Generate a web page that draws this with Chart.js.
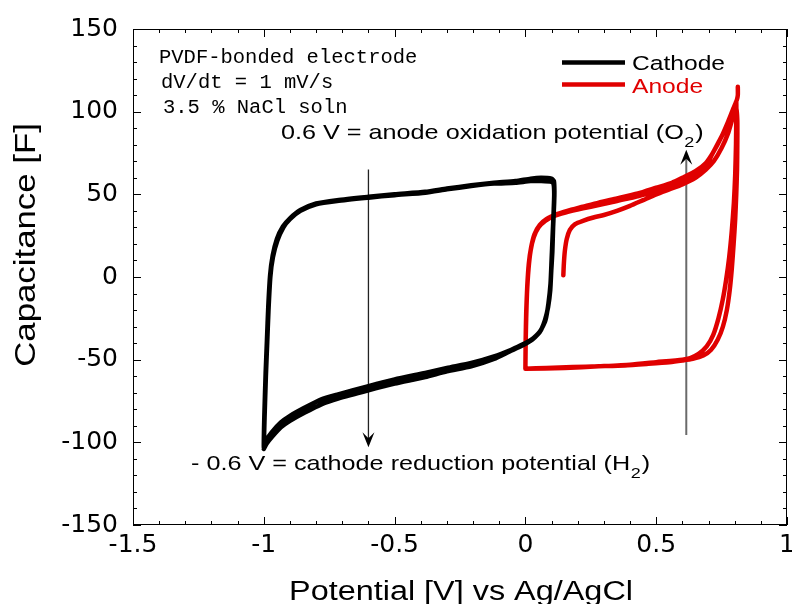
<!DOCTYPE html>
<html>
<head>
<meta charset="utf-8">
<script src="https://cdn.jsdelivr.net/npm/chart.js@4.4.1/dist/chart.umd.min.js"></script>
<style>
html,body{margin:0;padding:0;background:#fff;}
#c{display:block;}
</style>
</head>
<body>
<canvas id="c" width="792" height="604"></canvas>
<script>
// ---------------- DATA ----------------
const xTickValues = [-1.5, -1, -0.5, 0, 0.5, 1];
const xTickLabels = ['-1.5', '-1', '-0.5', '0', '0.5', '1'];
const yTickValues = [-150, -100, -50, 0, 50, 100, 150];
const yTickLabels = ['-150', '-100', '-50', '0', '50', '100', '150'];

const seriesNames = ['Cathode', 'Anode'];

// Cathode CV loop (two cycles) : potential [V]
const cathodeV = [
  -1.0, -0.997, -0.992, -0.987, -0.982, -0.975, -0.965, -0.948, -0.925, -0.9, -0.86, -0.8, -0.72, -0.6, -0.5, -0.383, -0.3, -0.207, -0.12, -0.038, 0.02, 0.06, 0.1, 0.108,
  0.11, 0.108, 0.104, 0.1, 0.096, 0.088, 0.077, 0.063, 0.05, 0.03, 0.011, -0.02, -0.054, -0.12, -0.207, -0.3, -0.383, -0.5, -0.6, -0.716, -0.78, -0.843, -0.9, -0.935, -0.97, -0.996, -1.0,
  -0.998, -0.993, -0.988, -0.983, -0.976, -0.966, -0.95, -0.927, -0.9, -0.86, -0.8, -0.72, -0.6, -0.5, -0.383, -0.3, -0.207, -0.12, -0.038, 0.02, 0.06, 0.1, 0.109,
  0.111, 0.11, 0.106, 0.103, 0.099, 0.095, 0.087, 0.075, 0.06, 0.046, 0.026, 0.006, -0.025, -0.06, -0.12, -0.207, -0.3, -0.383, -0.5, -0.6, -0.716, -0.78, -0.843, -0.9, -0.935, -0.97, -0.99, -1.0
];
// Cathode capacitance [F]
const cathodeC = [
  -103, -85, -60, -40, -20, 0, 12, 22, 30, 35, 40, 44, 46, 48, 49.5, 51, 53, 55, 56.5, 57, 58, 58, 57.5, 56,
  50, 40, 25, 10, -4, -16, -26, -31, -34, -37, -39, -41.5, -44, -48, -52, -55, -58, -62, -66, -71, -74, -79, -84, -88, -94, -100, -103,
  -84, -58, -38, -18, 1, 13, 23, 30.5, 35.5, 40.5, 44.5, 46.5, 48.5, 50, 51.5, 53.5, 55.5, 57, 58, 59.5, 60, 59.5, 58,
  52, 45, 30, 15, 4, -8, -18, -26, -32, -35, -38, -40, -42.5, -45, -49.5, -54, -57, -60.5, -64.5, -68.5, -73.5, -77, -82, -87, -91, -97, -101, -104
];

// Anode CV (starts at open circuit, then cycles) : potential [V]
const anodeV = [
  0.145, 0.147, 0.151, 0.158, 0.17, 0.19, 0.22, 0.26, 0.3, 0.35, 0.4, 0.45, 0.5, 0.55, 0.6, 0.65, 0.69, 0.72, 0.75, 0.775, 0.79, 0.8, 0.805,
  0.81, 0.81, 0.809, 0.806, 0.802, 0.796, 0.789, 0.781, 0.77, 0.755, 0.735, 0.71, 0.68, 0.64, 0.6, 0.55, 0.47, 0.38, 0.28, 0.18, 0.08, 0.0,
  0.0, 0.001, 0.003, 0.006, 0.012, 0.02, 0.032, 0.05, 0.077, 0.11, 0.153, 0.22, 0.28, 0.35, 0.433, 0.5, 0.56, 0.6, 0.65, 0.69, 0.713, 0.74, 0.766, 0.785, 0.797, 0.806,
  0.806, 0.805, 0.802, 0.797, 0.789, 0.779, 0.767, 0.754, 0.738, 0.718, 0.693, 0.662, 0.63, 0.6, 0.5, 0.4, 0.28, 0.15, 0.0,
  0.0, 0.001, 0.003, 0.007, 0.013, 0.022, 0.035, 0.055, 0.08, 0.12, 0.16, 0.22, 0.28, 0.35, 0.43, 0.5, 0.56, 0.6, 0.65, 0.69, 0.72, 0.75, 0.775, 0.795, 0.808, 0.812, 0.812
];
// Anode capacitance [F]
const anodeC = [
  1, 8, 16, 23, 28.5, 32, 34, 36, 37.5, 40, 43, 46.5, 50, 53, 56, 60, 65, 70, 78, 87, 95, 100, 103,
  95, 80, 65, 50, 35, 20, 5, -8, -20, -30, -38, -44, -47.5, -49.5, -50.5, -51.5, -52.5, -53.5, -54, -54.5, -55, -55.5,
  -55.5, -40, -25, -10, 5, 16, 24, 30, 34, 37, 39, 41.5, 43.5, 46, 49, 52, 55, 58, 62, 67, 74, 82, 90, 97, 102, 106,
  96, 80, 62, 45, 28, 12, -2, -14, -25, -35, -42, -46.5, -49, -50, -51.5, -53, -54, -55, -55.5,
  -55.5, -38, -22, -6, 8, 18, 26, 31.5, 35, 38, 40, 42.5, 45, 47.5, 50.5, 54, 57, 60, 64, 69, 76, 85, 94, 102, 107, 110, 115
];

// Annotation arrows: potential and start/end capacitance
const arrowV = [-0.6, 0.615];
const arrowFromC = [65, -95.5];
const arrowToC = [-103, 77];

// Texts
const xTitle = 'Potential [V] vs Ag/AgCl';
const yTitle = 'Capacitance [F]';
const infoLines = ['PVDF-bonded electrode', 'dV/dt = 1 mV/s', '3.5 % NaCl soln'];
const anodeNote = ['0.6 V = anode oxidation potential (O', '2', ')'];
const cathodeNote = ['- 0.6 V = cathode reduction potential (H', '2', ')'];

// ---------------- STYLE ----------------
const RED = '#e00000';
const SANS = '"Liberation Sans", Arial, sans-serif';
const STRETCH = 1.2;

function toPts(xs, ys) { return xs.map((v, i) => ({x: v, y: ys[i]})); }

function sText(ctx, str, x, y, size, color, align, base) {
  ctx.save();
  ctx.translate(x, y);
  ctx.scale(STRETCH, 1);
  ctx.font = size + 'px ' + SANS;
  ctx.fillStyle = color;
  ctx.textAlign = align || 'left';
  ctx.textBaseline = base || 'alphabetic';
  ctx.fillText(str, 0, 0);
  const w = ctx.measureText(str).width * STRETCH;
  ctx.restore();
  return w;
}

function noteWithSub(ctx, parts, x, y, size, color) {
  let w = sText(ctx, parts[0], x, y, size, color);
  let x2 = x + w + 0.5;
  const ws = sText(ctx, parts[1], x2, y + 8, Math.round(size * 0.7), color);
  sText(ctx, parts[2], x2 + ws + 1, y, size, color);
}

function arrowHead(ctx, x, y, dir, color) {
  // dir = 1 pointing down, -1 pointing up
  ctx.save();
  ctx.fillStyle = color;
  ctx.beginPath();
  ctx.moveTo(x, y);
  ctx.lineTo(x - 6, y - dir * 15);
  ctx.lineTo(x, y - dir * 9);
  ctx.lineTo(x + 6, y - dir * 15);
  ctx.closePath();
  ctx.fill();
  ctx.restore();
}

const decor = {
  id: 'decor',
  afterDatasetsDraw(chart) {
    const ctx = chart.ctx;
    const xs = chart.scales.x, ys = chart.scales.y;
    const a = chart.chartArea;
    ctx.save();
    // frame
    ctx.strokeStyle = '#000';
    ctx.lineWidth = 1;
    ctx.strokeRect(a.left + 0.5, a.top + 0.5, a.right - a.left - 1, a.bottom - a.top - 1);
    // ticks (inward), major and minor
    ctx.beginPath();
    for (let k = 0; k <= 25; k++) {
      const v = -1.5 + k * 0.1;
      const px = Math.round(xs.getPixelForValue(v)) + 0.5;
      const len = (k % 5 === 0) ? 8 : 4;
      ctx.moveTo(px, a.bottom); ctx.lineTo(px, a.bottom - len);
      ctx.moveTo(px, a.top); ctx.lineTo(px, a.top + len);
    }
    for (let k = 0; k <= 30; k++) {
      const v = -150 + k * 10;
      const py = Math.round(ys.getPixelForValue(v)) + 0.5;
      const len = (k % 5 === 0) ? 8 : 4;
      ctx.moveTo(a.left, py); ctx.lineTo(a.left + len, py);
      ctx.moveTo(a.right, py); ctx.lineTo(a.right - len, py);
    }
    ctx.stroke();

    // arrow heads
    arrowHead(ctx, xs.getPixelForValue(arrowV[0]), ys.getPixelForValue(arrowToC[0]), 1, '#000');
    arrowHead(ctx, xs.getPixelForValue(arrowV[1]), ys.getPixelForValue(arrowToC[1]), -1, '#000');

    // info text (monospace)
    ctx.font = '20.5px "Liberation Mono", "DejaVu Sans Mono", monospace';
    ctx.fillStyle = '#000';
    ctx.textAlign = 'left';
    ctx.textBaseline = 'alphabetic';
    ctx.fillText(infoLines[0], 159, 63);
    ctx.fillText(infoLines[1], 161, 88);
    ctx.fillText(infoLines[2], 163, 113);

    // notes
    noteWithSub(ctx, anodeNote, 281, 139, 21, '#000');
    noteWithSub(ctx, cathodeNote, 191, 470, 21, '#000');

    // legend
    ctx.lineWidth = 4.5;
    ctx.lineCap = 'butt';
    ctx.strokeStyle = '#000';
    ctx.beginPath(); ctx.moveTo(562, 62.5); ctx.lineTo(625, 62.5); ctx.stroke();
    ctx.strokeStyle = RED;
    ctx.beginPath(); ctx.moveTo(562, 84.5); ctx.lineTo(625, 84.5); ctx.stroke();
    sText(ctx, seriesNames[0], 632, 70, 20.5, '#000');
    sText(ctx, seriesNames[1], 632, 92.5, 20.5, RED);

    // axis titles
    sText(ctx, xTitle, (a.left + a.right) / 2 + 1, 600, 27, '#000', 'center');
    ctx.save();
    ctx.translate(27, 245);
    ctx.rotate(-Math.PI / 2);
    ctx.scale(STRETCH, 1);
    ctx.font = '29px ' + SANS;
    ctx.fillStyle = '#000';
    ctx.textAlign = 'center';
    ctx.textBaseline = 'middle';
    ctx.fillText(yTitle, 0, 0);
    ctx.restore();

    ctx.restore();
  }
};

const tickFont = {family: '"DejaVu Sans", sans-serif', size: 25};

new Chart(document.getElementById('c'), {
  type: 'scatter',
  data: {
    datasets: [
      {label: seriesNames[0], data: toPts(cathodeV, cathodeC), showLine: true, borderColor: '#000', backgroundColor: '#000', borderWidth: 4.5, pointRadius: 0, tension: 0.2, borderJoinStyle: 'round', borderCapStyle: 'round'},
      {label: seriesNames[1], data: toPts(anodeV, anodeC), showLine: true, borderColor: RED, backgroundColor: RED, borderWidth: 4.5, pointRadius: 0, tension: 0.2, borderJoinStyle: 'round', borderCapStyle: 'round'},
      {label: 'arrow-cathode', data: [{x: arrowV[0], y: arrowFromC[0]}, {x: arrowV[0], y: arrowToC[0] + 4}], showLine: true, borderColor: '#222', borderWidth: 1.3, pointRadius: 0},
      {label: 'arrow-anode', data: [{x: arrowV[1], y: arrowFromC[1]}, {x: arrowV[1], y: arrowToC[1] - 4}], showLine: true, borderColor: '#6a6a6a', borderWidth: 2, pointRadius: 0}
    ]
  },
  options: {
    responsive: false,
    animation: false,
    devicePixelRatio: 1,
    layout: {padding: {top: 29, right: 5, left: 0, bottom: 0}},
    plugins: {legend: {display: false}, tooltip: {enabled: false}},
    scales: {
      x: {
        type: 'linear', min: -1.5, max: 1,
        grid: {display: false, drawTicks: false},
        border: {display: false},
        afterBuildTicks: s => { s.ticks = xTickValues.map(v => ({value: v})); },
        ticks: {font: tickFont, color: '#000', padding: 5, maxRotation: 0, autoSkip: false,
          callback: (v, i) => xTickLabels[i]},
        afterFit: s => { s.height = 79; s.paddingLeft = 0; s.paddingRight = 0; }
      },
      y: {
        type: 'linear', min: -150, max: 150,
        grid: {display: false, drawTicks: false},
        border: {display: false},
        afterBuildTicks: s => { s.ticks = yTickValues.map(v => ({value: v})); },
        ticks: {font: tickFont, color: '#000', padding: 15, autoSkip: false,
          callback: (v, i) => yTickLabels[i]},
        afterFit: s => { s.width = 133; s.paddingTop = 0; s.paddingBottom = 0; }
      }
    }
  },
  plugins: [decor]
});
</script>
</body>
</html>
